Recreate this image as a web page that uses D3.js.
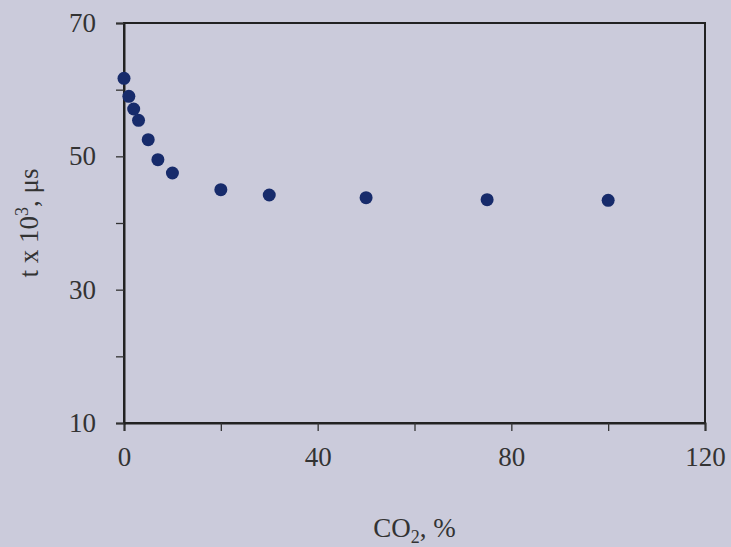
<!DOCTYPE html>
<html>
<head>
<meta charset="utf-8">
<script src="https://cdn.jsdelivr.net/npm/d3@7"></script>
<style>
  html, body { margin: 0; padding: 0; background: #cbcbdb; }
  svg { display: block; }
  text { font-family: "Liberation Serif", "Times New Roman", serif; fill: #333; }
</style>
</head>
<body>
<script>
const co2 = [0, 1, 2, 3, 5, 7, 10, 20, 30, 50, 75, 100];
const tValues = [61.7, 59.0, 57.1, 55.4, 52.5, 49.5, 47.5, 45.0, 44.2, 43.8, 43.5, 43.4];
const xTicks = [0, 20, 40, 60, 80, 100, 120];
const xTickLabels = ["0", "", "40", "", "80", "", "120"];
const yTicks = [10, 20, 30, 40, 50, 60, 70];
const yTickLabels = ["10", "", "30", "", "50", "", "70"];

const W = 731, H = 547;
const m = { left: 124, right: 26, top: 23, bottom: 124 };

const svg = d3.select("body").append("svg").attr("width", W).attr("height", H);
svg.append("rect").attr("width", W).attr("height", H).attr("fill", "#cbcbdb");

const x = d3.scaleLinear().domain([0, 120]).range([m.left, W - m.right]);
const y = d3.scaleLinear().domain([10, 70]).range([H - m.bottom, m.top]);

// frame
svg.append("rect")
  .attr("x", x(0)).attr("y", y(70))
  .attr("width", x(120) - x(0)).attr("height", y(10) - y(70))
  .attr("fill", "none").attr("stroke", "#222").attr("stroke-width", 2);

const xAxis = svg.append("g")
  .attr("transform", `translate(0,${y(10)})`)
  .call(d3.axisBottom(x).tickValues(xTicks).tickSize(8).tickPadding(16)
    .tickFormat((d, i) => xTickLabels[i]));
const yAxis = svg.append("g")
  .attr("transform", `translate(${x(0)},0)`)
  .call(d3.axisLeft(y).tickValues(yTicks).tickSize(8).tickPadding(20)
    .tickFormat((d, i) => yTickLabels[i]));

[xAxis, yAxis].forEach(g => {
  g.select(".domain").attr("stroke", "#222").attr("stroke-width", 2);
  g.selectAll(".tick line").attr("stroke", "#333").attr("stroke-width", 1.3);
  g.selectAll(".tick text").attr("font-size", 27).attr("fill", "#333")
    .style("font-family", "'Liberation Serif', serif");
});

// points
svg.append("g").selectAll("circle")
  .data(co2.map((c, i) => [c, tValues[i]]))
  .join("circle")
  .attr("cx", d => x(d[0]))
  .attr("cy", d => y(d[1]))
  .attr("r", 6.5)
  .attr("fill", "#172b6b");

// x label
const xl = svg.append("text")
  .attr("x", (x(0) + x(120)) / 2)
  .attr("y", 537)
  .attr("text-anchor", "middle")
  .attr("font-size", 27);
xl.append("tspan").text("CO");
xl.append("tspan").text("2").attr("font-size", 18).attr("dy", 6);
xl.append("tspan").text(", %").attr("dy", -6);

// y label
const yl = svg.append("text")
  .attr("transform", `translate(38,${(y(10) + y(70)) / 2}) rotate(-90)`)
  .attr("text-anchor", "middle")
  .attr("font-size", 27);
yl.append("tspan").text("t x 10");
yl.append("tspan").text("3").attr("font-size", 18).attr("dy", -10);
yl.append("tspan").text(", \u03bcs").attr("dy", 10);
</script>
</body>
</html>
